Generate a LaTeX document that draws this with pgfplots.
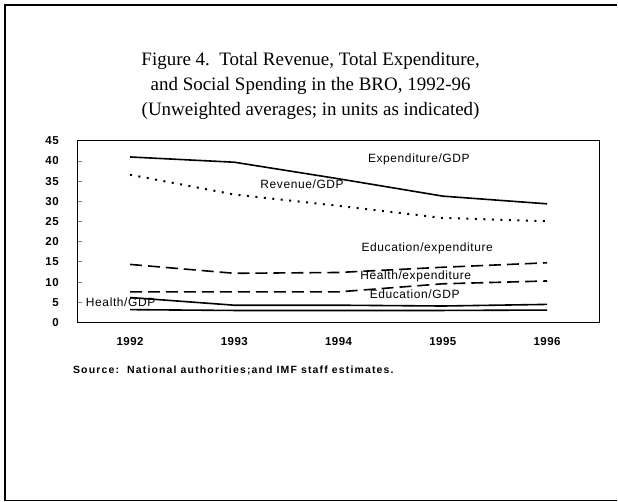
\documentclass[border=0pt]{standalone}
\usepackage{fontspec}
\setmainfont{Liberation Serif}
\setsansfont{Liberation Sans}
\newfontfamily\tickfont[LetterSpace=4]{Liberation Sans}
\newfontfamily\lblfont[LetterSpace=5]{Liberation Sans}
\newfontfamily\srcfont[LetterSpace=11]{Liberation Sans}
\usepackage{pgfplots}
\pgfplotsset{compat=1.18}
\begin{document}
\begin{tikzpicture}[x=1pt,y=1pt]
  \path (0,0) rectangle (618,502);
  % frame of the page
  \draw[line width=1.6pt] (618,497) -- (5,497) -- (5,1) -- (618,1);
  % title
  \node[anchor=base,font=\fontsize{19}{22}\selectfont] at (311,436) {Figure 4.\ \ Total Revenue, Total Expenditure,};
  \node[anchor=base,font=\fontsize{19}{22}\selectfont] at (311,411) {and Social Spending in the BRO, 1992-96};
  \node[anchor=base,font=\fontsize{19}{22}\selectfont] at (311,386) {(Unweighted averages; in units as indicated)};
  \begin{axis}[
      at={(78pt,179pt)}, anchor=south west,
      width=522pt, height=182pt, scale only axis,
      xmin=1991.5, xmax=1996.5,
      ymin=0, ymax=45,
      axis line style={line width=1.2pt},
      xtick={1992,1993,1994,1995,1996},
      xticklabels={1992,1993,1994,1995,1996},
      xtick style={draw=none},
      minor xtick={1992.5,1993.5,1994.5,1995.5},
      minor x tick style={line width=1pt},
      ytick={0,5,...,45},
      ytick style={line width=1pt},
      tick align=inside,
      major tick length=4pt, minor tick length=4pt,
      xtick pos=bottom, ytick pos=left,
      tick label style={font=\tickfont\bfseries\fontsize{11.5}{13}\selectfont},
      xticklabel style={anchor=north, inner sep=0pt, yshift=-15pt},
      yticklabel style={anchor=east, inner sep=0pt, xshift=-19pt},
      /pgf/number format/assume math mode=true,
      /pgf/number format/1000 sep={},
      clip=false,
      every axis plot/.append style={black, line width=1.6pt},
    ]
    % Expenditure/GDP
    \addplot[solid] coordinates {(1992,41.0) (1993,39.7) (1994,35.6) (1995,31.3) (1996,29.4)};
    % Revenue/GDP
    \addplot[line width=2pt, dash pattern=on 2pt off 6.5pt] coordinates {(1992,36.6) (1993,31.7) (1994,28.9) (1995,25.9) (1996,25.1)};
    % Education/expenditure
    \addplot[dash pattern=on 12pt off 6pt] coordinates {(1992,14.4) (1993,12.2) (1994,12.4) (1995,13.7) (1996,14.8)};
    % Health/expenditure
    \addplot[dash pattern=on 12pt off 6pt] coordinates {(1992,7.6) (1993,7.6) (1994,7.6) (1995,9.6) (1996,10.3)};
    % Health/GDP
    \addplot[solid] coordinates {(1992,6.2) (1993,4.3) (1994,4.3) (1995,4.1) (1996,4.5)};
    % Education/GDP
    \addplot[solid] coordinates {(1992,3.2) (1993,3.0) (1994,3.0) (1995,3.0) (1996,3.1)};
    \begin{scope}[every node/.style={font=\lblfont\fontsize{12}{14}\selectfont, inner sep=0pt}]
      \node at (axis cs:1994.77,40.5) {Expenditure/GDP};
      \node at (axis cs:1993.65,34.3) {Revenue/GDP};
      \node at (axis cs:1994.85,18.4) {Education/expenditure};
      \node at (axis cs:1994.74,11.4) {Health/expenditure};
      \node at (axis cs:1994.73,7.0) {Education/GDP};
      \node at (axis cs:1991.91,5.0) {Health/GDP};
    \end{scope}
  \end{axis}
  % source note
  \node[anchor=base west, inner sep=0pt, font=\srcfont\bfseries\fontsize{10.5}{12}\selectfont] at (73,128) {Source:\ \ National authorities;and IMF staff estimates.};
\end{tikzpicture}
\end{document}
